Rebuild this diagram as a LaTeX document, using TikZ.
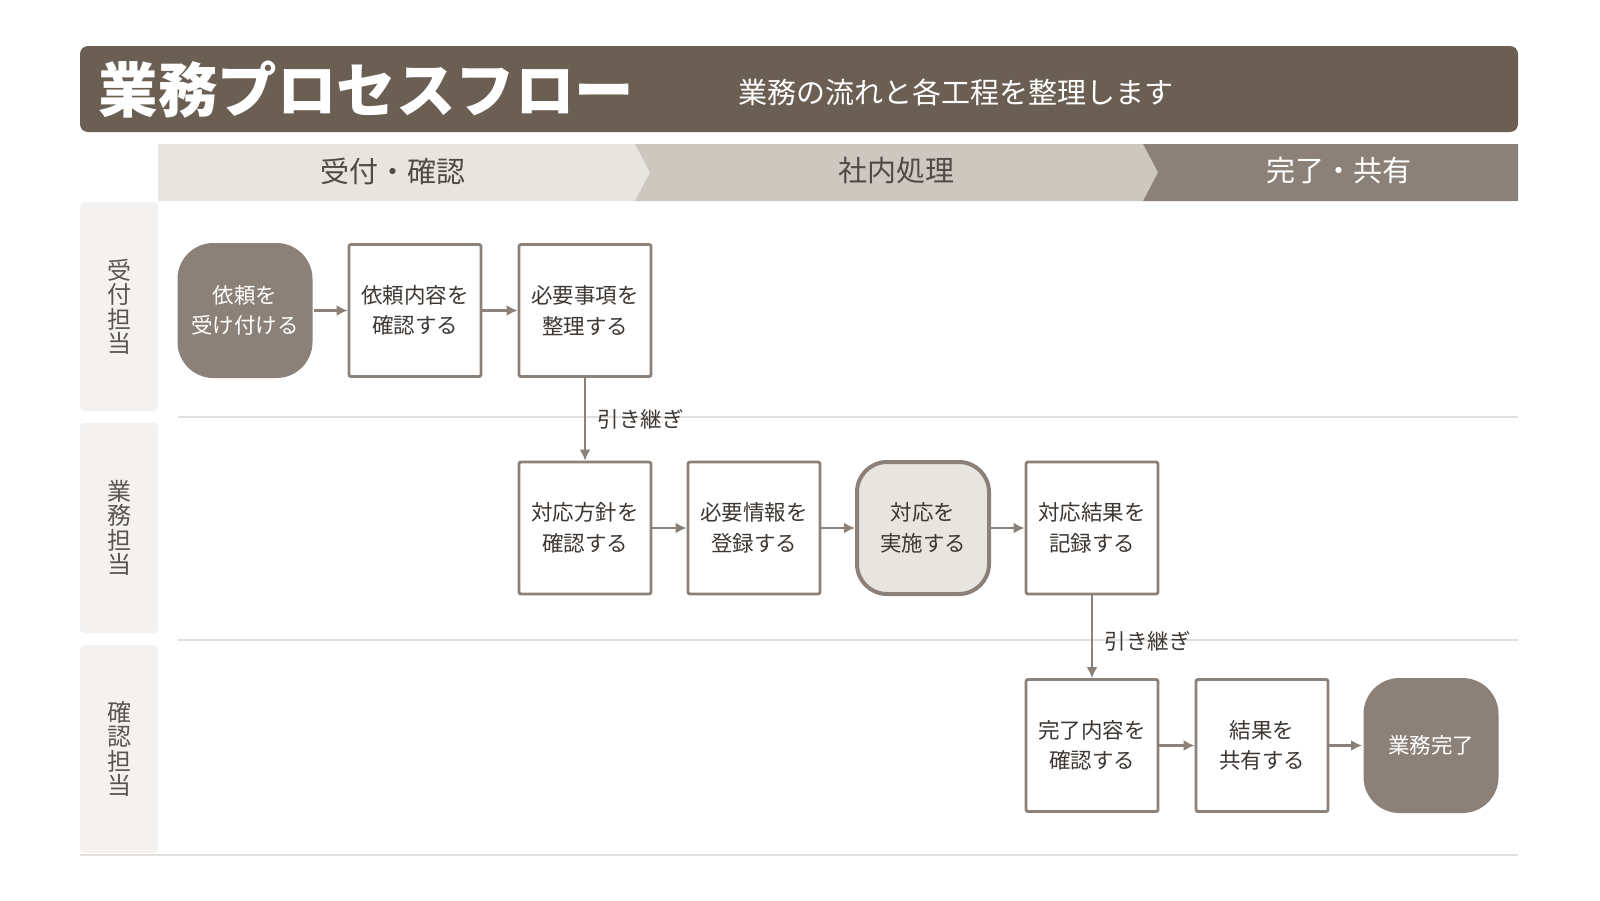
\documentclass[tikz,border=0pt]{standalone}
\usepackage{fontspec}
\setmainfont{Noto Sans CJK JP}
\usepackage{tikz}
\usetikzlibrary{arrows.meta}
\usetikzlibrary{positioning}
\definecolor{titelfarbe}{HTML}{6B5F54}
\definecolor{linie}{HTML}{8B8178}
\definecolor{phaseeins}{HTML}{E8E4E0}
\definecolor{phasezwei}{HTML}{CEC7C0}
\definecolor{spalte}{HTML}{F4F2F0}
\definecolor{trenner}{HTML}{E3DFDB}
\definecolor{schrift}{HTML}{3C3733}
\newcommand{\knotenschrift}{\fontsize{21.5}{30.5}\selectfont}

\begin{document}
\begin{tikzpicture}[
	x=1pt, y=-1pt,
	> = {Latex[length=11pt,width=11pt]},
	box/.style = {draw=linie, line width=2.8pt, fill=white, rounded corners=2pt, minimum width=132pt, minimum height=132pt, inner sep=0pt, align=center, text=schrift, font=\knotenschrift},
	endbox/.style = {box, draw=none, fill=linie, rounded corners=36pt, minimum width=135pt, minimum height=135pt, text=white},
	aktivbox/.style = {box, line width=4pt, fill=phaseeins, rounded corners=30pt},
	pfeil/.style = {->, draw=linie, line width=2.8pt},
	bahn/.style = {fill=spalte, rounded corners=4pt},
	bahntext/.style = {align=center, text=schrift!85, font=\fontsize{24}{24.5}\selectfont},
	phasetext/.style = {text=schrift!90, font=\fontsize{29}{30}\selectfont},
	uebergabe/.style = {right=8pt, text=schrift, font=\fontsize{21.5}{22}\selectfont}
	]
	\useasboundingbox (0,0) rectangle (1600,900);
	\fill[white] (0,0) rectangle (1600,900);

	% Kopfzeile
	\fill[titelfarbe, rounded corners=8pt] (80,46) rectangle (1518,132);
	\node[anchor=west, text=white, font=\fontsize{59.5}{60}\selectfont\bfseries] (titel) at (95,90) {業務プロセスフロー};
	\node[anchor=west, text=white, font=\fontsize{29}{30}\selectfont] (untertitel) at (735,92) {業務の流れと各工程を整理します};

	% Phasen
	\fill[phaseeins] (158,144) -- (635,144) -- (650,172.5) -- (635,201) -- (158,201) -- cycle;
	\fill[phasezwei] (635,144) -- (1143,144) -- (1158,172.5) -- (1143,201) -- (635,201) -- (650,172.5) -- cycle;
	\fill[linie] (1143,144) -- (1518,144) -- (1518,201) -- (1143,201) -- (1158,172.5) -- cycle;
	\node[phasetext] (p1) at (393,171) {受付・確認};
	\node[phasetext] (p2) at (896,171) {社内処理};
	\node[phasetext, text=white] (p3) at (1339,171) {完了・共有};

	% Bahnen
	\fill[bahn] (80,202) rectangle (158,411);
	\fill[bahn] (80,423) rectangle (158,633);
	\fill[bahn] (80,645) rectangle (158,853);
	\node[bahntext] (b1) at (119,307) {受\\付\\担\\当};
	\node[bahntext] (b2) at (119,528) {業\\務\\担\\当};
	\node[bahntext] (b3) at (119,749) {確\\認\\担\\当};
	\draw[trenner, line width=1.2pt] (178,417) -- (1518,417);
	\draw[trenner, line width=1.2pt] (178,640) -- (1518,640);
	\draw[trenner, line width=1.2pt] (80,855) -- (1518,855);

	\node[endbox] (n1) at (245,310.5) {依頼を\\受け付ける};
	\node[box] (n2) at (415,310.5) {依頼内容を\\確認する};
	\node[box] (n3) at (585,310.5) {必要事項を\\整理する};

	\node[box] (n4) at (585,528) {対応方針を\\確認する};
	\node[box] (n5) at (754,528) {必要情報を\\登録する};
	\node[aktivbox] (n6) at (923,528) {対応を\\実施する};
	\node[box] (n7) at (1092,528) {対応結果を\\記録する};

	\node[box] (n8) at (1092,745.5) {完了内容を\\確認する};
	\node[box] (n9) at (1262,745.5) {結果を\\共有する};
	\node[endbox] (n10) at (1431,745.5) {業務完了};

	\draw[pfeil] (n1) -- (n2);
	\draw[pfeil] (n2) -- (n3);
	\draw[pfeil] (n3) -- node[uebergabe, pos=0.5] (h1) {引き継ぎ} (n4);
	\draw[pfeil] (n4) -- (n5);
	\draw[pfeil] (n5) -- (n6);
	\draw[pfeil] (n6) -- (n7);
	\draw[pfeil] (n7) -- node[uebergabe, pos=0.55] (h2) {引き継ぎ} (n8);
	\draw[pfeil] (n8) -- (n9);
	\draw[pfeil] (n9) -- (n10);

\end{tikzpicture}
\end{document}
